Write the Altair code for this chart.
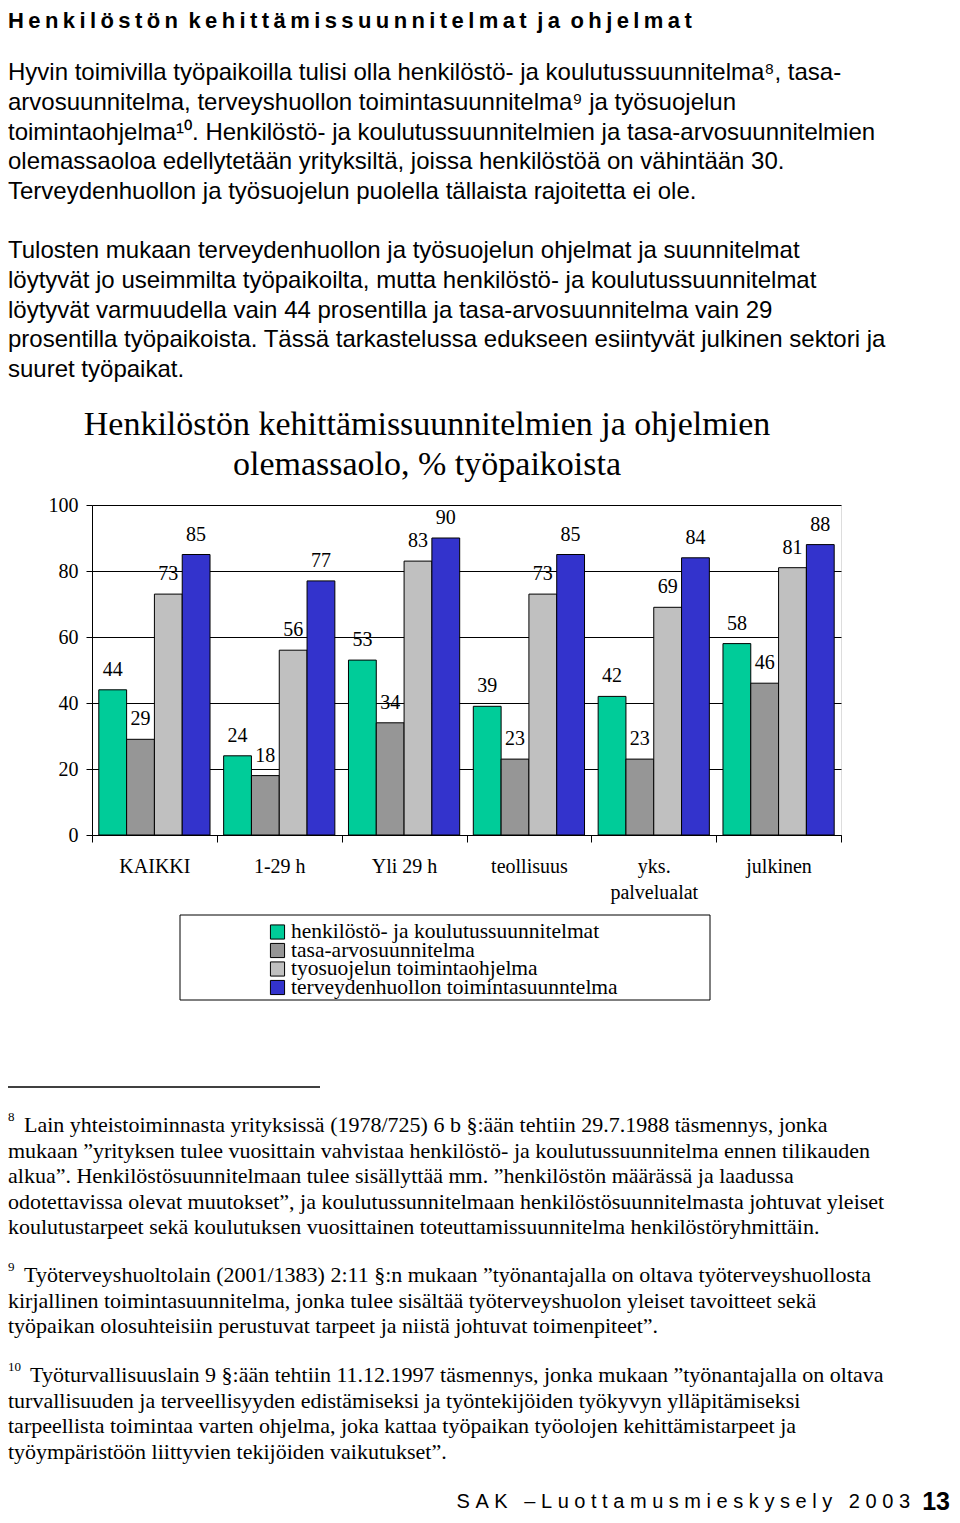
import altair as alt
import pandas as pd

# ---------------- data ----------------
groups = ["KAIKKI", "1-29 h", "Yli 29 h", "teollisuus", "yks. palvelualat", "julkinen"]
series = ["henkilöstö- ja koulutussuunnitelmat", "tasa-arvosuunnitelma",
          "tyosuojelun toimintaohjelma", "terveydenhuollon toimintasuunntelma"]
henkilosto_koulutus = [44, 24, 53, 39, 42, 58]
tasa_arvo = [29, 18, 34, 23, 23, 46]
tyosuojelu = [73, 56, 83, 73, 69, 81]
terveydenhuolto = [85, 77, 90, 85, 84, 88]
series_colors = ["#00CC99", "#969696", "#C0C0C0", "#3333CC"]
y_ticks = [0, 20, 40, 60, 80, 100]

heading = "Henkilöstön kehittämissuunnitelmat ja ohjelmat"
para1 = [
    "Hyvin toimivilla työpaikoilla tulisi olla henkilöstö- ja koulutussuunnitelma⁸, tasa-",
    "arvosuunnitelma, terveyshuollon toimintasuunnitelma⁹ ja työsuojelun",
    "toimintaohjelma¹⁰. Henkilöstö- ja koulutussuunnitelmien ja tasa-arvosuunnitelmien",
    "olemassaoloa edellytetään yrityksiltä, joissa henkilöstöä on vähintään 30.",
    "Terveydenhuollon ja työsuojelun puolella tällaista rajoitetta ei ole.",
]
para2 = [
    "Tulosten mukaan terveydenhuollon ja työsuojelun ohjelmat ja suunnitelmat",
    "löytyvät jo useimmilta työpaikoilta, mutta henkilöstö- ja koulutussuunnitelmat",
    "löytyvät varmuudella vain 44 prosentilla ja tasa-arvosuunnitelma vain 29",
    "prosentilla työpaikoista. Tässä tarkastelussa edukseen esiintyvät julkinen sektori ja",
    "suuret työpaikat.",
]
chart_title = ["Henkilöstön kehittämissuunnitelmien ja ohjelmien",
               "olemassaolo, % työpaikoista"]
fn_marks = ["8", "9", "10"]
fn_first = [
    "Lain yhteistoiminnasta yrityksissä (1978/725) 6 b §:ään tehtiin 29.7.1988 täsmennys, jonka",
    "Työterveyshuoltolain (2001/1383) 2:11 §:n mukaan ”työnantajalla on oltava työterveyshuollosta",
    "Työturvallisuuslain 9 §:ään tehtiin 11.12.1997 täsmennys, jonka mukaan ”työnantajalla on oltava",
]
fn_rest = [
    ["mukaan ”yrityksen tulee vuosittain vahvistaa henkilöstö- ja koulutussuunnitelma ennen tilikauden",
     "alkua”.  Henkilöstösuunnitelmaan tulee sisällyttää mm. ”henkilöstön määrässä ja laadussa",
     "odotettavissa olevat muutokset”, ja koulutussunnitelmaan henkilöstösuunnitelmasta johtuvat yleiset",
     "koulutustarpeet sekä koulutuksen vuosittainen toteuttamissuunnitelma henkilöstöryhmittäin."],
    ["kirjallinen toimintasuunnitelma, jonka tulee sisältää työterveyshuolon yleiset tavoitteet sekä",
     "työpaikan olosuhteisiin perustuvat tarpeet ja niistä johtuvat toimenpiteet”."],
    ["turvallisuuden ja terveellisyyden edistämiseksi ja työntekijöiden työkyvyn ylläpitämiseksi",
     "tarpeellista toimintaa varten ohjelma, joka kattaa työpaikan työolojen kehittämistarpeet ja",
     "työympäristöön liittyvien tekijöiden vaikutukset”."],
]
footer_text = "SAK –Luottamusmieskysely 2003"
page_no = "13"

rows = []
for s, vals in zip(series, [henkilosto_koulutus, tasa_arvo, tyosuojelu, terveydenhuolto]):
    for g, v in zip(groups, vals):
        rows.append({"ryhma": g, "sarja": s, "arvo": v})
df = pd.DataFrame(rows)
legend_df = pd.DataFrame({"sarja": series})

# ---------------- layout helpers ----------------
SERIF = "Liberation Serif"
SANS = "Liberation Sans"
W, H = 749, 330
OX, OY = 92, 505          # page position of plot origin
PAD = {"left": OX - 8, "top": OY - 8, "right": 944 - (OX - 8) - W, "bottom": 1506 - (OY - 8) - H}


def X(px):
    return px - OX


def Y(py):
    return py - OY


one = alt.Data(values=[{"k": 0}])


def spaced(s, sep, word_sep):
    return word_sep.join(sep.join(list(w)) for w in s.split(" "))


def text_block(lines, px, py, size, font, align="left", weight="normal", lh=None):
    # py = centre of the first line on the page
    return alt.Chart(one).mark_text(
        align=align, baseline="middle", font=font, fontSize=size, fontWeight=weight,
        lineHeight=lh if lh else size * 1.2, color="black"
    ).encode(x=alt.value(X(px)), y=alt.value(Y(py)), text=alt.value(lines))


# ---------------- chart ----------------
x_axis = alt.Axis(
    title=None, labelAngle=0, tickBand="extent", tickSize=7, labelPadding=14,
    labelFont=SERIF, labelFontSize=20, labelColor="black", labelLineHeight=26,
    labelExpr="datum.label == 'yks. palvelualat' ? ['yks.', 'palvelualat'] : datum.label",
    domainColor="black", tickColor="black", grid=False)
y_axis = alt.Axis(
    title=None, values=y_ticks, tickSize=6, labelPadding=8, labelFont=SERIF,
    labelFontSize=20, labelColor="black", domainColor="black", tickColor="black",
    grid=True, gridColor="black", gridOpacity=1, gridWidth=1)

x_enc = alt.X("ryhma:N", sort=groups, scale=alt.Scale(paddingInner=0, paddingOuter=0), axis=x_axis)
xoff = alt.XOffset("sarja:N", sort=series, scale=alt.Scale(paddingInner=0, paddingOuter=0.245))
val_scale = alt.Scale(domain=[0, 100], nice=False)
color_scale = alt.Scale(domain=series, range=series_colors)
color = alt.Color("sarja:N", sort=series, scale=color_scale, legend=None)

bars = alt.Chart(df).mark_bar(stroke="black", strokeWidth=1).encode(
    x=x_enc, xOffset=xoff, y=alt.Y("arvo:Q", scale=val_scale, axis=y_axis), color=color)
labels = alt.Chart(df).mark_text(dy=-20, font=SERIF, fontSize=20, color="black").encode(
    x=alt.X("ryhma:N", sort=groups), xOffset=alt.XOffset("sarja:N", sort=series),
    y=alt.Y("arvo:Q", scale=val_scale, axis=None), text="arvo:Q")

# legend drawn from the series list through its own point scale
leg_y = alt.Y("sarja:N", sort=series, axis=None,
              scale=alt.Scale(range=[Y(932), Y(987.5)], padding=0))
legend_sym = alt.Chart(legend_df).mark_square(
    size=200, stroke="black", strokeWidth=1, opacity=1, filled=True
).encode(x=alt.value(X(277.5)), y=leg_y, color=color)
legend_txt = alt.Chart(legend_df).mark_text(
    align="left", baseline="middle", font=SERIF, fontSize=21.5, color="black"
).encode(x=alt.value(X(291)), y=leg_y, text="sarja:N")

legend_box = alt.Chart(one).mark_rect(fill="transparent", stroke="black", strokeWidth=1).encode(
    x=alt.value(X(180)), x2=alt.value(X(710)), y=alt.value(Y(915)), y2=alt.value(Y(1000)))

fn_rule = alt.Chart(one).mark_rule(color="black", strokeWidth=1.5).encode(
    x=alt.value(X(8)), x2=alt.value(X(320)), y=alt.value(Y(1087)))

layers = [bars, labels, legend_box, legend_sym, legend_txt, fn_rule]

# page text
layers.append(text_block(spaced(heading, "\u2009", " \u2009"), 8, 21, 22, SANS, weight="bold"))
layers.append(text_block(para1, 8, 73, 24, SANS, lh=29.75))
layers.append(text_block(para2, 8, 251, 24, SANS, lh=29.75))
layers.append(text_block(chart_title, 427, 425, 34, SERIF, align="center", lh=40))

fn_first_y = [1125, 1275, 1375]
fn_first_x = [24, 24, 30]
for i in range(3):
    fy = fn_first_y[i]
    layers.append(text_block(fn_marks[i], 8, fy - 8, 13, SERIF))
    layers.append(text_block(fn_first[i], fn_first_x[i], fy, 22, SERIF))
    layers.append(text_block(fn_rest[i], 8, fy + 25.5, 22, SERIF, lh=25.5))

layers.append(text_block(spaced(footer_text, "\u00a0", "\u00a0\u00a0\u00a0"), 910, 1502, 20, SANS, align="right"))
layers.append(text_block(page_no, 950, 1502, 25, SANS, align="right", weight="bold"))

chart = alt.layer(*layers).resolve_scale(y="independent").properties(
    width=W, height=H, padding=PAD, autosize=alt.AutoSizeParams(type="none")
).configure_view(stroke="black", strokeWidth=1).configure(background="white")

chart.save("out.html", embed_options={"renderer": "svg", "actions": False})
